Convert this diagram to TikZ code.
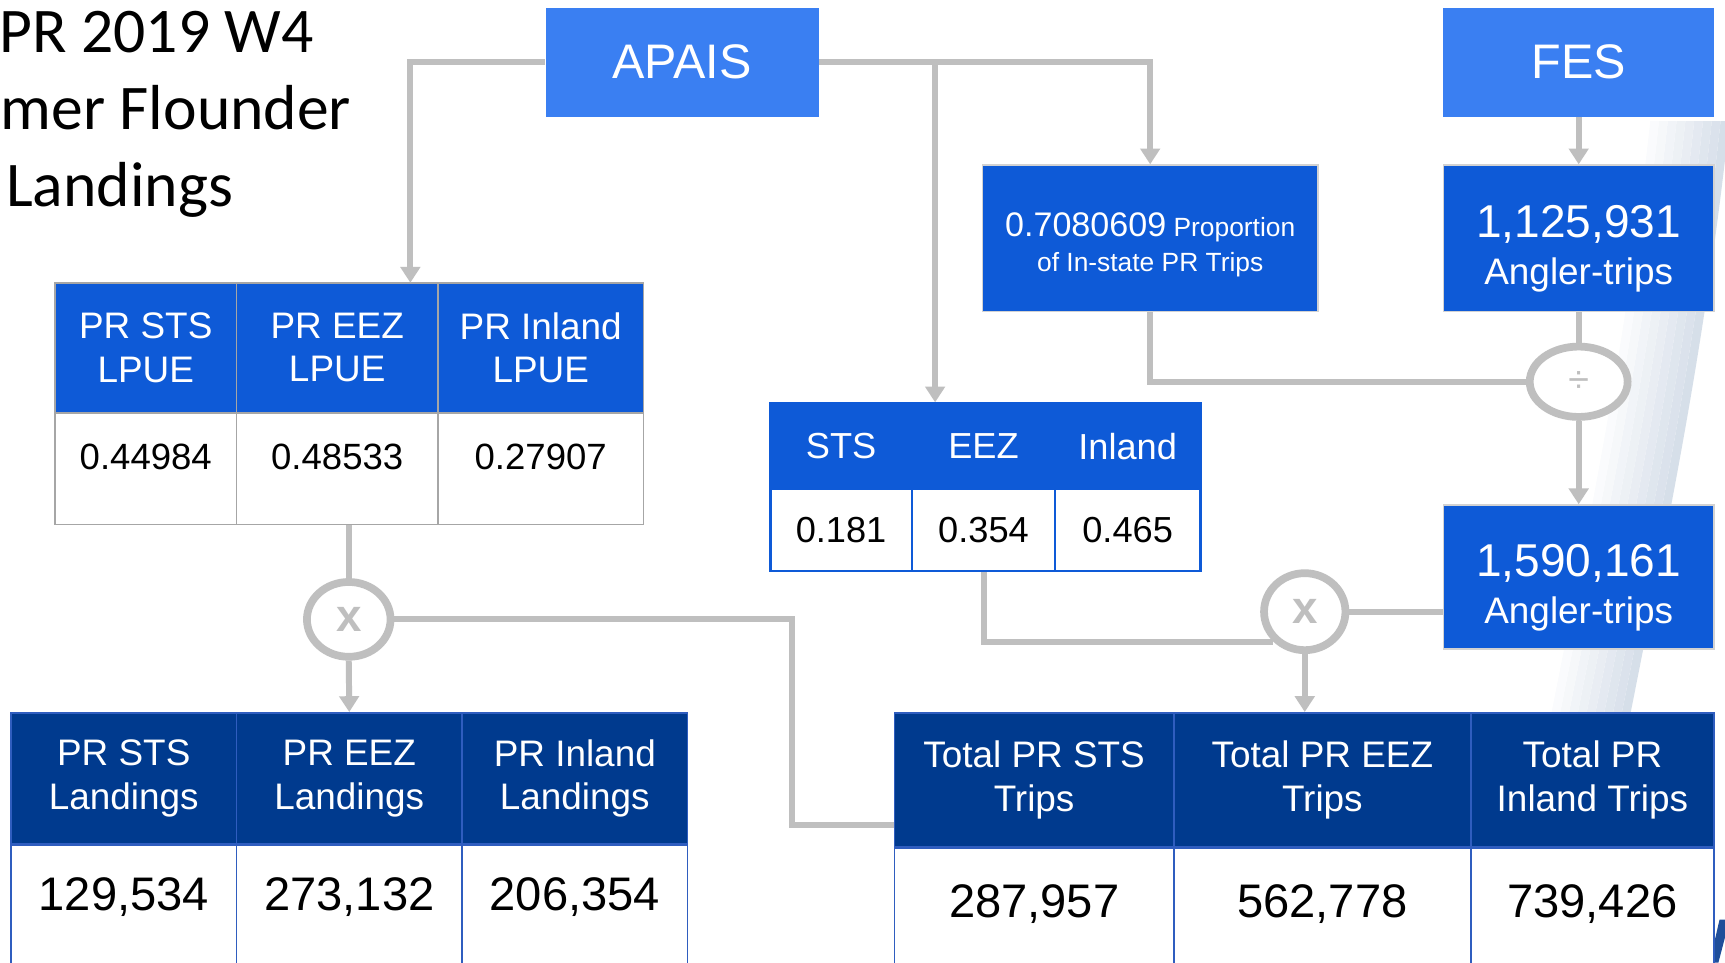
\documentclass[tikz,border=0pt]{standalone}
\usepackage{fontspec}
\setmainfont{Liberation Sans}
\newfontfamily\titlefont{Carlito}
\usetikzlibrary{arrows.meta,shapes.geometric,calc}

\definecolor{apaisblue}{HTML}{3A7FF2}
\definecolor{boxblue}{HTML}{0E5AD7}
\definecolor{navy}{HTML}{003A8E}
\definecolor{linegray}{HTML}{BFBFBF}
\definecolor{cellgray}{HTML}{A6A6A6}
\definecolor{tabline}{HTML}{2F5DBF}
\definecolor{swoosh}{HTML}{D2DBE7}
\definecolor{logoblue}{HTML}{1F4E9A}

\newcommand{\pxu}{0.011cm}

\tikzset{
  boxsize/.style 2 args={minimum width={#1*\pxu},minimum height={#2*\pxu}},
  srcbox/.style={fill=apaisblue,text=white,inner sep=0pt,font=\fontsize{13.8}{16}\selectfont},
  numbox/.style={fill=boxblue,draw=gray!35,thin,inner sep=0pt},
  boxtext/.style={text=white,align=center,inner sep=0pt},
  lpuehead/.style={fill=boxblue,draw=cellgray,line width=0.5pt,text=white,align=center,inner sep=0pt,font=\fontsize{10.5}{12.4}\selectfont},
  lpueval/.style={fill=white,draw=cellgray,line width=0.5pt,inner sep=0pt,font=\fontsize{10.4}{12}\selectfont,text height={51*\pxu},text depth={50*\pxu}},
  stshead/.style={fill=boxblue,draw=boxblue,line width=0.8pt,text=white,inner sep=0pt,font=\fontsize{10.3}{12}\selectfont},
  stsval/.style={fill=white,draw=boxblue,line width=0.8pt,inner sep=0pt,font=\fontsize{10.3}{12}\selectfont},
  navyhead/.style={fill=navy,draw=tabline,line width=0.5pt,text=white,align=center,inner sep=0pt,font=\fontsize{10.5}{12.4}\selectfont},
  bigval/.style={fill=white,draw=tabline,line width=0.5pt,inner sep=0pt,font=\fontsize{13.4}{15}\selectfont},
  opnode/.style={ellipse,draw=linegray,line width=2.2pt,fill=white,inner sep=0pt,text=linegray},
  conn/.style={draw=linegray,line width=1.7pt},
  arr/.style={conn,-{Triangle[width=5.5pt,length=4.5pt]}}
}

\begin{document}
\begin{tikzpicture}[x=0.011cm,y=-0.011cm]
\fill[white] (0,0) rectangle (1568,875);
\useasboundingbox (0,0) rectangle (1568,875);

% background swoosh, faded in bands
\foreach \k in {0,...,9} {
  \pgfmathsetmacro{\offA}{8*\k}
  \pgfmathsetmacro{\offB}{8*\k+8}
  \pgfmathtruncatemacro{\pc}{90-10*\k}
  \fill[swoosh!\pc!white] ({1572-\offA},110) .. controls ({1548-\offA},330) and ({1515-\offA},480) .. ({1468-\offA},720)
    -- ({1468-\offB},720) .. controls ({1515-\offB},480) and ({1548-\offB},330) .. ({1572-\offB},110) -- cycle;
}
\fill[logoblue] (1554,875) -- (1563,836) -- (1568,836) -- (1568,852) -- (1562,875) -- cycle;

% title
\node[font=\titlefont\fontsize{18.1}{21.9}\selectfont,anchor=base west,inner sep=0pt] (title1) at (-1,48) {PR 2019 W4};
\node[font=\titlefont\fontsize{18.1}{21.9}\selectfont,anchor=base west,inner sep=0pt] (title2) at (0,118) {mer Flounder};
\node[font=\titlefont\fontsize{18.1}{21.9}\selectfont,anchor=base west,inner sep=0pt] (title3) at (5,188) {Landings};

%=== sources
\node[srcbox,boxsize={248}{99}] (apais) at (620,56.5) {APAIS};
\node[srcbox,boxsize={246}{99}] (fes) at (1435,56.5) {FES};

% proportion and angler trips
\node[numbox,boxsize={305}{133},
  label={[boxtext,font=\fontsize{7.5}{10}\selectfont,yshift=-1.8pt]center:{{\fontsize{9.7}{9.7}\selectfont 0.7080609} Proportion\\of In-state PR Trips}}]
  (prop) at (1045.5,216.5) {};
\node[numbox,boxsize={246}{133},
  label={[boxtext,font=\fontsize{10.5}{13.4}\selectfont,yshift=-3pt]center:{{\fontsize{13.1}{13.1}\selectfont 1,125,931}\\Angler-trips}}]
  (fesTrips) at (1435,216.5) {};
\node[numbox,boxsize={246}{131},
  label={[boxtext,font=\fontsize{10.5}{13.4}\selectfont,yshift=-3pt]center:{{\fontsize{13.1}{13.1}\selectfont 1,590,161}\\Angler-trips}}]
  (totTrips) at (1435,524.5) {};

% operators
\node[opnode,boxsize={89}{64},font=\fontsize{10.7}{12}\selectfont] (divOp) at (1435,347) {÷};
\node[opnode,boxsize={74}{70},font=\bfseries\fontsize{13}{13}\selectfont] (mulR) at (1186,556) {x};
\node[opnode,boxsize={76}{68},font=\bfseries\fontsize{13}{13}\selectfont] (mulL) at (317,563) {x};

%=== LPUE table
\foreach \n/\cx/\w/\hd/\val in {S/132.5/165/{PR STS\\LPUE}/0.44984,E/306.5/183/{PR EEZ\\LPUE}/0.48533,I/491.5/187/{PR Inland\\LPUE}/0.27907} {
  \node[lpuehead,boxsize={\w}{118}] (lpueh\n) at (\cx,316) {\hd};
  \node[lpueval,minimum width={\w*\pxu},anchor=north] (lpuev\n) at (\cx,375) {\val};
}

%=== trip share table
\foreach \n/\cx/\w/\hd/\val in {S/764.5/129/STS/0.181,E/894/130/EEZ/0.354,I/1025/132/Inland/0.465} {
  \node[stshead,boxsize={\w}{77}] (stsh\n) at (\cx,405.5) {\hd};
  \node[stsval,boxsize={\w}{75}] (stsv\n) at (\cx,481.5) {\val};
}

%=== landings table
\foreach \n/\cx/\hd/\val in {S/112.5/{PR STS\\Landings}/{129,534},E/317.5/{PR EEZ\\Landings}/{273,132},I/522.5/{PR Inland\\Landings}/{206,354}} {
  \node[navyhead,boxsize={205}{119}] (landh\n) at (\cx,707.5) {\hd};
  \node[bigval,minimum width={205*\pxu},text height={60*\pxu},text depth={73*\pxu},anchor=north] (landv\n) at (\cx,767) {\val};
}

%=== total trips table
\foreach \n/\cx/\w/\hd/\val in {S/940/254/{Total PR STS\\Trips}/{287,957},E/1202/270/{Total PR EEZ\\Trips}/{562,778},I/1447.5/221/{Total PR\\Inland Trips}/{739,426}} {
  \node[navyhead,boxsize={\w}{122}] (toth\n) at (\cx,709) {\hd};
  \node[bigval,minimum width={\w*\pxu},text height={63*\pxu},text depth={67*\pxu},anchor=north] (totv\n) at (\cx,770) {\val};
}

%=== connectors
\coordinate (lpueIn) at (373,257);
\coordinate (tapS) at (850,56.5);
\coordinate (bendL) at (720,750);

\draw[arr] (apais.west) -| (lpueIn);
\draw[arr] (apais.east) -| (prop.north);
\draw[arr] (tapS) -- (tapS |- stshE.north);
\draw[arr] (fes.south) -- (fesTrips.north);
\draw[conn] (fesTrips.south) -- (divOp.north);
\draw[conn] (prop.south) |- (divOp.west);
\draw[arr] (divOp.south) -- (totTrips.north);
\draw[conn] (totTrips.west |- mulR.east) -- (mulR.east);
\draw[conn] (stsvE.south) |- (mulR.south west);
\draw[arr] (mulR.south) -- (mulR.south |- tothE.north);
\draw[conn] (mulL.north |- lpuevE.south) -- (mulL.north);
\draw[arr] (mulL.south) -- (landhE.north);
\draw[conn] (mulL.east) -| (bendL) -- (bendL -| tothS.west);

\end{tikzpicture}
\end{document}
